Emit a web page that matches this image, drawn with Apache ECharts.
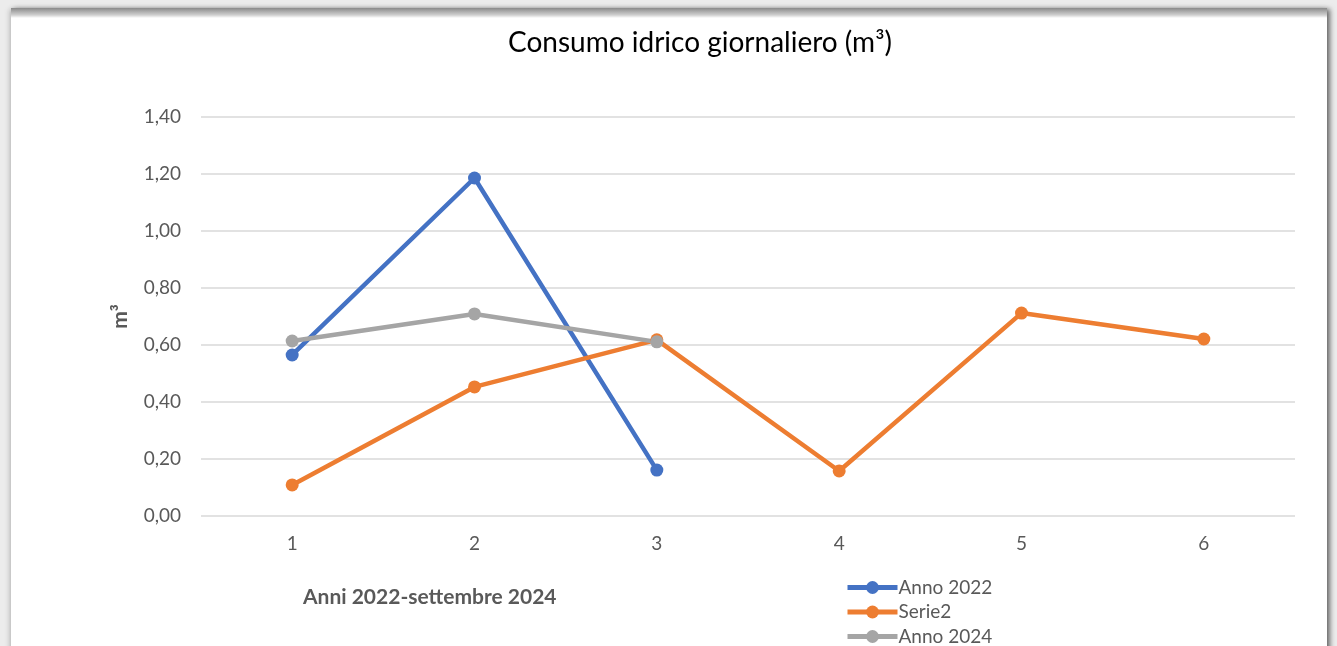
<!DOCTYPE html>
<html>
<head>
<meta charset="utf-8">
<script src="https://cdn.jsdelivr.net/npm/echarts@6/dist/echarts.min.js"></script>
<style>
  html, body { margin: 0; padding: 0; background: #ececec; overflow: hidden; }
  #frame {
    position: absolute; left: 11px; top: 9px; width: 1316px; height: 660px;
    background: #fff;
    box-shadow: 3px 0 5px rgba(0,0,0,0.55), -2px 0 5px rgba(0,0,0,0.15);
  }
  #topband {
    position: absolute; left: 11px; top: 8px; width: 1316px; height: 10px;
    background: linear-gradient(#8a8a8a, #cfcfcf 70%, #ffffff);
  }
  #chart { position: absolute; left: 0; top: 0; width: 1337px; height: 646px; }
</style>
</head>
<body>
<div id="frame"></div>
<div id="topband"></div>
<div id="chart"></div>
<script>
const categories = ['1', '2', '3', '4', '5', '6'];
const anno2022 = [0.565, 1.186, 0.161, null, null, null];
const serie2 = [0.109, 0.453, 0.618, 0.158, 0.712, 0.621];
const anno2024 = [0.614, 0.709, 0.611, null, null, null];
const seriesNames = ['Anno 2022', 'Serie2', 'Anno 2024'];
const seriesColors = ['#4472C4', '#ED7D31', '#A5A5A5'];

const chart = echarts.init(document.getElementById('chart'));
const font = 'Lato, "Open Sans", sans-serif';

const makeSeries = (name, data, color) => ({
  name: name,
  type: 'line',
  data: data,
  symbol: 'circle',
  symbolSize: 13,
  connectNulls: false,
  itemStyle: { color: color },
  lineStyle: { color: color, width: 4.5 },
  animation: false,
});

chart.setOption({
  animation: false,
  title: {
    text: 'Consumo idrico giornaliero (m³)',
    left: 508,
    top: 29,
    padding: 0,
    textStyle: { fontFamily: font, fontSize: 28, fontWeight: 'normal', color: '#000' },
  },
  grid: { left: 201, right: 42, top: 117, bottom: 130 },
  xAxis: {
    type: 'category',
    data: categories,
    boundaryGap: true,
    axisLine: { show: false },
    axisTick: { show: false },
    axisLabel: { fontFamily: font, fontSize: 19, color: '#595959', margin: 18 },
  },
  yAxis: {
    type: 'value',
    min: 0,
    max: 1.4,
    interval: 0.2,
    name: 'm³',
    nameLocation: 'middle',
    nameGap: 70,
    nameRotate: 90,
    nameTextStyle: { fontFamily: font, fontSize: 21, fontWeight: 'bold', color: '#595959' },
    axisLabel: {
      fontFamily: font, fontSize: 19, color: '#595959', margin: 20,
      formatter: v => v.toFixed(2).replace('.', ','),
    },
    splitLine: { lineStyle: { color: '#d9d9d9', width: 1.5 } },
  },
  legend: {
    orient: 'vertical',
    left: 845,
    top: 578,
    height: 120,
    padding: 0,
    itemWidth: 50,
    itemHeight: 16,
    itemGap: 5.5,
    textStyle: { fontFamily: font, fontSize: 19, color: '#595959', padding: [0, 0, 0, -4] },
    data: seriesNames.map((n, i) => ({
      name: n,
      itemStyle: { color: seriesColors[i] },
      lineStyle: { color: seriesColors[i], width: 5 },
    })),
  },
  graphic: [{
    type: 'text',
    left: 303,
    top: 587,
    style: {
      text: 'Anni 2022-settembre 2024',
      fontFamily: font, fontSize: 21, fontWeight: 'bold', fill: '#595959',
    },
  }],
  series: [
    makeSeries(seriesNames[0], anno2022, seriesColors[0]),
    makeSeries(seriesNames[1], serie2, seriesColors[1]),
    makeSeries(seriesNames[2], anno2024, seriesColors[2]),
  ],
});
</script>
</body>
</html>
